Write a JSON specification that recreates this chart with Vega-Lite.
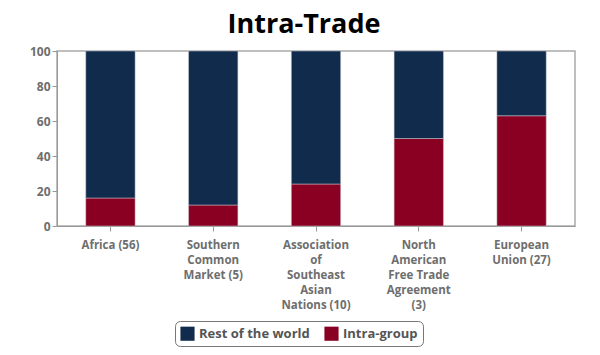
{
  "$schema": "https://vega.github.io/schema/vega-lite/v6.json",
  "autosize": "none",
  "width": 518,
  "height": 175,
  "padding": {"left": 57, "top": 51, "right": 25, "bottom": 129},
  "background": "white",
  "title": {"text": "Intra-Trade", "fontSize": 27, "font": "Open Sans", "fontWeight": "bold", "color": "#000000", "offset": 6, "dx": -12, "anchor": "middle"},
  "data": {"values": [
    {"region": "Africa (56)", "series": "Intra-group", "value": 16},
    {"region": "Africa (56)", "series": "Rest of the world", "value": 84},
    {"region": "Southern|Common|Market (5)", "series": "Intra-group", "value": 12},
    {"region": "Southern|Common|Market (5)", "series": "Rest of the world", "value": 88},
    {"region": "Association|of|Southeast|Asian|Nations (10)", "series": "Intra-group", "value": 24},
    {"region": "Association|of|Southeast|Asian|Nations (10)", "series": "Rest of the world", "value": 76},
    {"region": "North|American|Free Trade|Agreement|(3)", "series": "Intra-group", "value": 50},
    {"region": "North|American|Free Trade|Agreement|(3)", "series": "Rest of the world", "value": 50},
    {"region": "European|Union (27)", "series": "Intra-group", "value": 63},
    {"region": "European|Union (27)", "series": "Rest of the world", "value": 37}
  ]},
  "mark": {"type": "bar", "stroke": "#c8c8d0", "strokeWidth": 0.5},
  "encoding": {
    "x": {"field": "region", "type": "nominal", "sort": null,
      "scale": {"paddingInner": 0.52, "paddingOuter": 0.28},
      "axis": {"title": null, "labelAngle": 0, "labelExpr": "split(datum.label, '|')", "labelFont": "Open Sans", "labelFontWeight": "bold", "labelFontSize": 11.5, "labelColor": "#6e6e6e", "labelLineHeight": 15, "labelPadding": 8, "domainColor": "#999999", "tickColor": "#999999", "tickSize": 5, "labelLimit": 200}},
    "y": {"field": "value", "type": "quantitative", "stack": "zero",
      "scale": {"domain": [0, 100]},
      "axis": {"title": null, "grid": false, "values": [0, 20, 40, 60, 80, 100], "labelFont": "Open Sans", "labelFontWeight": "bold", "labelFontSize": 12, "labelColor": "#6e6e6e", "domainColor": "#999999", "tickColor": "#999999", "tickSize": 5}},
    "color": {"field": "series", "type": "nominal",
      "scale": {"domain": ["Rest of the world", "Intra-group"], "range": ["#112b4c", "#8a0022"]},
      "legend": {"title": null, "orient": "none", "legendX": 118, "legendY": 270, "direction": "horizontal", "symbolType": "square", "symbolSize": 200, "symbolStrokeWidth": 0, "labelFont": "Open Sans", "labelFontWeight": "bold", "labelFontSize": 13, "labelColor": "#555555", "strokeColor": "#777777", "cornerRadius": 5, "padding": 5, "columnPadding": 14}},
    "order": {"field": "series", "sort": "ascending"}
  },
  "config": {"view": {"stroke": "#aaaaaa", "strokeWidth": 1.5}}
}
